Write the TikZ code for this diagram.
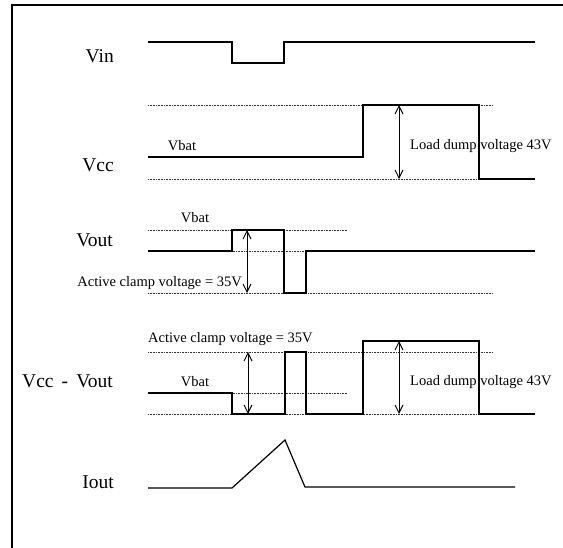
\documentclass[tikz,border=0pt]{standalone}
\usepackage{fontspec}
\setmainfont{Liberation Serif}
\usetikzlibrary{arrows.meta}
\begin{document}
\begin{tikzpicture}[x=1pt,y=-1pt,
  wave/.style={line width=1.2pt,line join=miter},
  guide/.style={line width=0.7pt,dash pattern=on 0.8pt off 0.8pt,black!80},
  meas/.style={line width=1pt,{Straight Barb[length=8pt,width=8pt]}-{Straight Barb[length=8pt,width=8pt]}},
  biglbl/.style={font=\fontsize{19.5}{22}\selectfont,inner sep=0pt,anchor=base east},
  smalllbl/.style={font=\fontsize{14.5}{17}\selectfont,inner sep=0pt}]
\useasboundingbox (0,0) rectangle (563,548);
% frame
\draw[line width=2pt] (563,5.5) -- (12.3,5.5) -- (12.3,548);
% labels
\node[biglbl] (lvin) at (114,63) {Vin};
\node[biglbl] (lvcc) at (114,172) {Vcc};
\node[biglbl] (lvout) at (113,247) {Vout};
\node[biglbl] (lvcv) at (113,388) {Vcc\, -\, Vout};
\node[biglbl] (liout) at (114,489) {Iout};
% Vin
\draw[wave] (148,42) -- (232,42) -- (232,63) -- (284,63) -- (284,42) -- (535,42);
% Vcc
\draw[guide] (148,105) -- (493,105);
\draw[guide] (148,179) -- (479,179);
\draw[wave] (148,157) -- (363,157) -- (363,105) -- (479,105) -- (479,179) -- (535,179);
\draw[meas] (399,105) -- (399,179);
\node[smalllbl,anchor=base] (vbat1) at (182,151) {Vbat};
\node[smalllbl,anchor=base west] (ld1) at (410,150) {Load dump voltage 43V};
% Vout
\draw[guide] (148,230) -- (347,230);
\draw[guide] (148,251) -- (476,251);
\draw[guide] (148,293) -- (493,293);
\draw[wave] (148,251) -- (232,251) -- (232,230) -- (284,230) -- (284,293) -- (306,293) -- (306,251) -- (535,251);
\draw[meas] (247,230) -- (247,293);
\node[smalllbl,anchor=base] (vbat2) at (195,223) {Vbat};
\node[smalllbl,anchor=base east] (ac1) at (242,287) {Active clamp voltage = 35V};
% Vcc - Vout
\draw[guide] (148,352) -- (493,352);
\draw[guide] (148,393) -- (347,393);
\draw[guide] (148,414) -- (479,414);
\draw[wave] (148,393) -- (232,393) -- (232,414) -- (285,414) -- (285,352) -- (306,352) -- (306,414) -- (363,414) -- (363,341) -- (479,341) -- (479,414) -- (535,414);
\draw[meas] (248,352) -- (248,414);
\draw[meas] (399,341) -- (399,414);
\node[smalllbl,anchor=base west] (ac2) at (148,343) {Active clamp voltage = 35V};
\node[smalllbl,anchor=base] (vbat3) at (195,387) {Vbat};
\node[smalllbl,anchor=base west] (ld2) at (410,386) {Load dump voltage 43V};
% Iout
\draw[wave] (148,488) -- (232,488) -- (285,440) -- (305,487) -- (515,487);
\end{tikzpicture}
\end{document}
